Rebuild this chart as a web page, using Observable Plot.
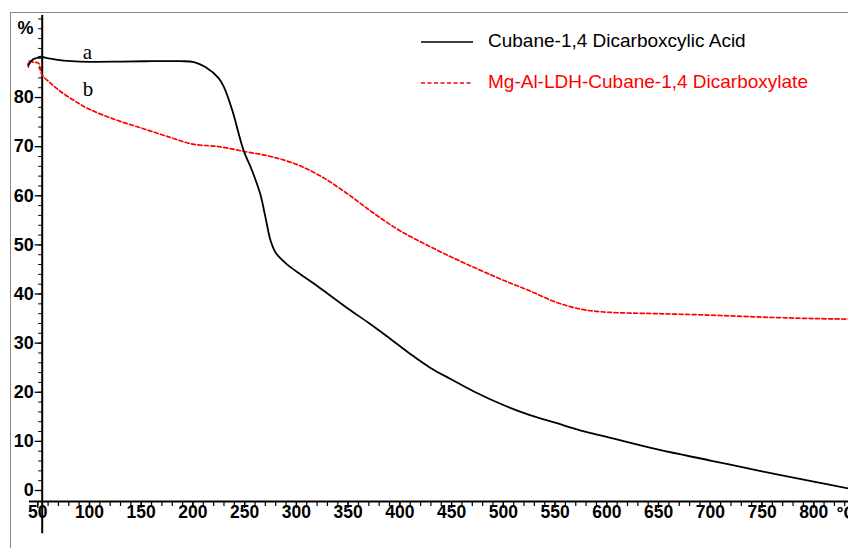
<!DOCTYPE html>
<html>
<head>
<meta charset="utf-8">
<script src="https://cdn.jsdelivr.net/npm/d3@7"></script>
<script src="https://cdn.jsdelivr.net/npm/@observablehq/plot@0.6"></script>
<style>
  html, body { margin: 0; padding: 0; background: #fff; }
  #wrap { position: relative; width: 848px; height: 548px; overflow: hidden; background: #fff; }
  #border { position: absolute; left: 10px; top: 12px; width: 860px; height: 560px;
            border-left: 1px solid #8a8a8a; border-top: 1px solid #8a8a8a; pointer-events: none; }
  #legend { position: absolute; left: 0; top: 0; font-family: "Liberation Sans", Arial, sans-serif; font-size: 19px; }
  .lg { position: absolute; white-space: nowrap; }
</style>
</head>
<body>
<div id="wrap">
  <div id="border"></div>
  <div id="chart"></div>
  <div id="legend"></div>
</div>
<script>
// ---- data (temperature °C, mass %) ----
const seriesNames = ["Cubane-1,4 Dicarboxcylic Acid", "Mg-Al-LDH-Cubane-1,4 Dicarboxylate"];
const seriesColors = ["#000000", "#ff0000"];
const curveLabels = ["a", "b"];

const acidTemp = [41, 44.9, 49.7, 52.6, 62, 75, 91, 130, 160, 188, 201, 212, 225, 230, 238, 249, 257, 265, 270, 275, 280, 290, 300, 315, 330, 350, 370, 390, 410, 430, 450, 475, 500, 525, 550, 575, 600, 650, 700, 750, 800, 836];
const acidMass = [86.6, 87.7, 88.1, 88.3, 87.9, 87.5, 87.3, 87.3, 87.4, 87.4, 87.2, 86.2, 83.9, 82.1, 77.4, 69.2, 65.2, 60.4, 55.7, 50.9, 48.4, 46.2, 44.6, 42.4, 40.1, 37.0, 34.1, 31.0, 27.8, 24.9, 22.6, 19.8, 17.4, 15.4, 13.8, 12.2, 10.9, 8.3, 6.1, 3.9, 1.8, 0.3];

const ldhTemp = [41, 41.3, 45.8, 50.7, 52.6, 54.5, 62, 70.3, 85, 100, 125, 150, 175, 200, 225, 250, 275, 300, 325, 350, 375, 400, 425, 450, 475, 500, 525, 550, 575, 600, 650, 700, 750, 800, 833.6];
const ldhMass = [86.2, 87.4, 87.2, 87.0, 85.5, 84.5, 83.0, 81.5, 79.4, 77.6, 75.5, 73.8, 72.1, 70.5, 70.0, 69.0, 68.0, 66.4, 63.8, 60.3, 56.4, 52.9, 50.1, 47.5, 45.1, 42.8, 40.7, 38.4, 36.9, 36.3, 36.0, 35.7, 35.3, 35.0, 34.9];

const xTickLabels = [50, 100, 150, 200, 250, 300, 350, 400, 450, 500, 550, 600, 650, 700, 750, 800];
const xMinorTicks = d3.range(50, 831, 10);
const yTickLabels = [0, 10, 20, 30, 40, 50, 60, 70, 80];
const yMinorTicks = d3.range(0, 97, 2);
const xUnit = "°C";
const yUnit = "%";

// ---- build ----
const xDomain = [54.3, 833.6];
const yDomain = [-2.24, 96.7];
const acid = acidTemp.map((t, i) => ({t, m: acidMass[i]}));
const ldh = ldhTemp.map((t, i) => ({t, m: ldhMass[i]}));
const font = "Liberation Sans, Arial, sans-serif";

const chart = Plot.plot({
  width: 848,
  height: 548,
  marginLeft: 41.7,
  marginRight: 0,
  marginTop: 15,
  marginBottom: 47,
  x: {domain: xDomain, label: null},
  y: {domain: yDomain, label: null},
  style: {fontFamily: font, background: "transparent"},
  marks: [
    // y axis: minor ticks, major ticks + labels
    Plot.axisY({ticks: yMinorTicks, tickSize: 3.5, tickFormat: () => "", label: null, stroke: "#000"}),
    Plot.axisY({ticks: yTickLabels, tickSize: 7, tickPadding: 1.5, label: null, fontSize: 18, fontWeight: "bold", fill: "#000", stroke: "#000", strokeWidth: 1.3}),
    // x axis: minor ticks, major ticks, labels
    Plot.axisX({ticks: xMinorTicks, tickSize: 5, tickFormat: () => "", label: null, stroke: "#000", strokeWidth: 1.2}),
    Plot.axisX({ticks: xTickLabels, tickSize: 7, tickFormat: () => "", label: null, stroke: "#000", strokeWidth: 1.3}),
    Plot.axisX({ticks: xTickLabels, tickSize: 0, tickPadding: 4.5, label: null, fontSize: 17.5, fontWeight: "bold", fill: "#000"}),
    // axis lines
    Plot.ruleX([xDomain[0]], {y1: -8.8, y2: yDomain[1], stroke: "#000", strokeWidth: 2}),
    Plot.ruleY([yDomain[0]], {x1: 42, x2: xDomain[1], stroke: "#000", strokeWidth: 2}),
    // units
    Plot.text([yUnit], {x: 46, y: 94.2, text: d => d, textAnchor: "end", fontSize: 18, fontWeight: "bold", fill: "#000"}),
    Plot.text([xUnit], {x: 822, y: -4.6, text: d => d, textAnchor: "start", fontSize: 17.5, fontWeight: "bold", fill: "#000"}),
    // curves
    Plot.line(ldh, {x: "t", y: "m", stroke: seriesColors[1], strokeWidth: 1.7, strokeDasharray: "4,2.5", curve: "catmull-rom"}),
    Plot.line(acid, {x: "t", y: "m", stroke: seriesColors[0], strokeWidth: 1.8, curve: "catmull-rom"}),
    // curve labels
    Plot.text([curveLabels[0]], {x: 98, y: 89.3, text: d => d, fontFamily: "Liberation Serif, Times New Roman, serif", fontSize: 21, fill: "#000"}),
    Plot.text([curveLabels[1]], {x: 98.5, y: 81.6, text: d => d, fontFamily: "Liberation Serif, Times New Roman, serif", fontSize: 21, fill: "#000"})
  ]
});
chart.style.overflow = "visible";
document.getElementById("chart").appendChild(chart);

// ---- legend ----
const legend = document.getElementById("legend");
const legendRows = [
  {lineTop: 41.7, textTop: 30.1, dash: null},
  {lineTop: 82.7, textTop: 71.1, dash: "4,2.5"}
];
seriesNames.forEach((name, i) => {
  const row = legendRows[i];
  const svgNS = "http://www.w3.org/2000/svg";
  const s = document.createElementNS(svgNS, "svg");
  s.setAttribute("width", 54); s.setAttribute("height", 6);
  s.style.position = "absolute"; s.style.left = "420px"; s.style.top = (row.lineTop - 3) + "px";
  const l = document.createElementNS(svgNS, "line");
  l.setAttribute("x1", 1); l.setAttribute("x2", 53); l.setAttribute("y1", 3); l.setAttribute("y2", 3);
  l.setAttribute("stroke", seriesColors[i]); l.setAttribute("stroke-width", 1.6);
  if (row.dash) l.setAttribute("stroke-dasharray", row.dash);
  s.appendChild(l);
  legend.appendChild(s);
  const t = document.createElement("div");
  t.className = "lg";
  t.textContent = name;
  t.style.left = "488px"; t.style.top = row.textTop + "px";
  t.style.color = seriesColors[i];
  legend.appendChild(t);
});
</script>
</body>
</html>
